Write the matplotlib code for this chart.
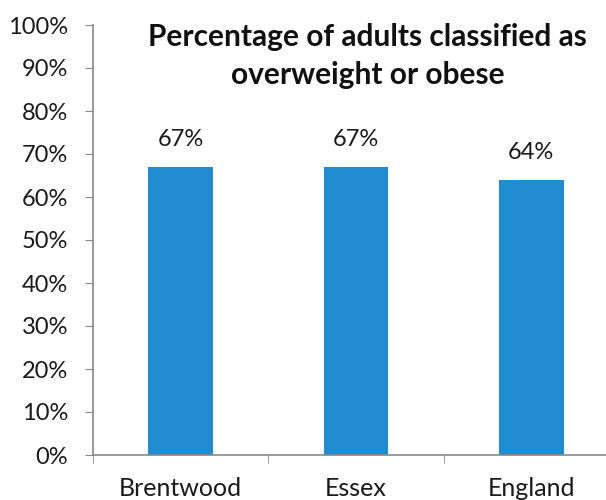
import matplotlib.pyplot as plt
from matplotlib.ticker import MultipleLocator, PercentFormatter

areas = ["Brentwood", "Essex", "England"]
pct_overweight = [67, 67, 64]

plt.rcParams['font.family'] = ['Lato', 'DejaVu Sans']

fig = plt.figure(figsize=(6.06, 5.0), dpi=100)
# plot area runs past the right edge of the canvas
ax = fig.add_axes([93 / 606, 45 / 500, 526 / 606, 430 / 500])

x = range(len(areas))
bars = ax.bar(x, pct_overweight, width=0.37, color='#1f8dd0', zorder=2)

for b, v in zip(bars, pct_overweight):
    ax.text(b.get_x() + b.get_width() / 2, v + 4, f"{v}%",
            ha='center', va='bottom', fontsize=17, color='#1a1a1a')

ax.set_xlim(-0.5, 2.5)
ax.set_ylim(0, 100)
ax.yaxis.set_major_locator(MultipleLocator(10))
ax.yaxis.set_major_formatter(PercentFormatter(decimals=0))

ax.set_xticks(list(x))
ax.set_xticklabels(areas)
ax.set_xticks([-0.5, 0.5, 1.5, 2.5], minor=True)
ax.tick_params(axis='x', which='major', length=0, pad=16, labelsize=18, labelcolor='#1a1a1a')
ax.tick_params(axis='x', which='minor', length=6, color='#888888', direction='out')
ax.tick_params(axis='y', length=6, color='#888888', labelsize=17, labelcolor='#1a1a1a', pad=12)

for s in ['top', 'right']:
    ax.spines[s].set_visible(False)
for s in ['left', 'bottom']:
    ax.spines[s].set_color('#888888')
    ax.spines[s].set_linewidth(1.2)

fig.text(0.607, 0.888, "Percentage of adults classified as\noverweight or obese",
         ha='center', va='center', fontsize=21.5, fontweight='bold',
         color='#111111', linespacing=1.4)

fig.savefig('out.png', dpi=100)
